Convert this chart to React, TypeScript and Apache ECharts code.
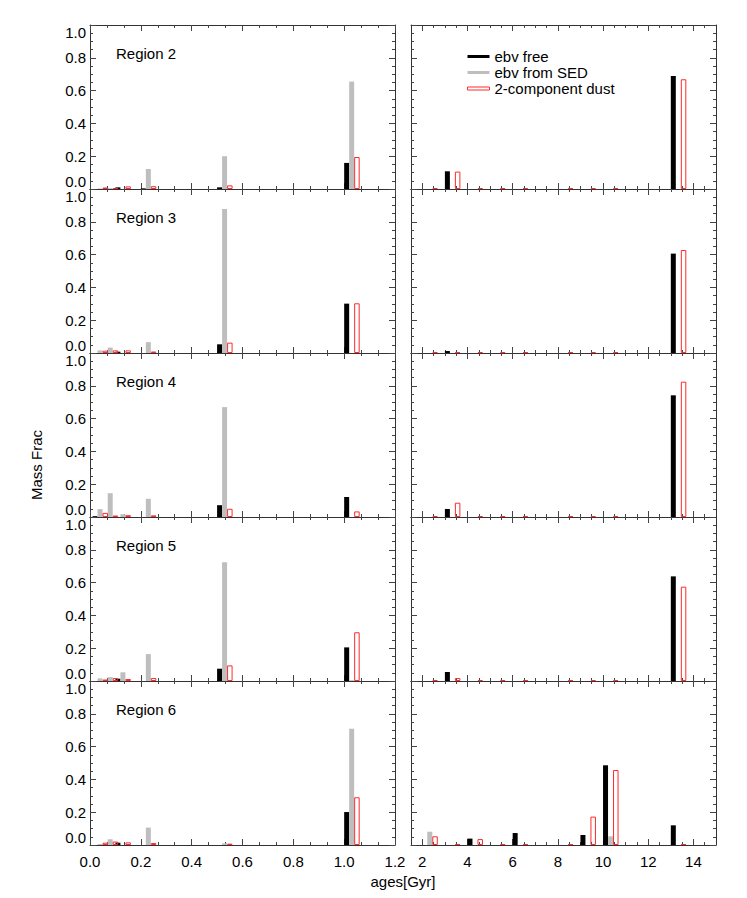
import React, { useEffect, useRef } from 'react';
import * as echarts from 'echarts';

// Ages (Gyr) of the stellar population bins
const ages = [0.01, 0.05, 0.1, 0.2, 0.5, 1.0, 2, 3, 4, 5, 6, 8, 9, 10, 13];

const regionNames = ['Region 2', 'Region 3', 'Region 4', 'Region 5', 'Region 6'];
const seriesNames = ['ebv free', 'ebv from SED', '2-component dust'];

// Mass fractions per region: "ebv free", "ebv from SED", "2-component dust"
const r2Free = [0, 0, 0.01, 0.004, 0.01, 0.159, 0, 0.108, 0, 0, 0, 0, 0, 0, 0.689];
const r2Sed = [0.003, 0.005, 0, 0.122, 0.2, 0.655, 0, 0, 0, 0, 0, 0, 0, 0, 0];
const r2Dust = [0.003, 0, 0.01, 0.011, 0.016, 0.189, 0, 0.1, 0, 0, 0, 0, 0, 0, 0.663];

const r3Free = [0, 0, 0.008, 0, 0.053, 0.301, 0, 0.012, 0, 0, 0, 0, 0, 0, 0.606];
const r3Sed = [0.016, 0.033, 0, 0.066, 0.878, 0, 0, 0, 0, 0, 0, 0, 0, 0, 0];
const r3Dust = [0.008, 0.01, 0.01, 0.003, 0.057, 0.297, 0, 0, 0, 0, 0, 0, 0, 0, 0.622];

const r4Free = [0.005, 0, 0, 0, 0.072, 0.122, 0, 0.049, 0, 0, 0, 0, 0, 0, 0.742];
const r4Sed = [0.048, 0.145, 0.017, 0.111, 0.67, 0, 0, 0, 0, 0, 0, 0, 0, 0, 0];
const r4Dust = [0.019, 0.003, 0.005, 0.004, 0.044, 0.028, 0, 0.081, 0, 0, 0, 0, 0, 0, 0.819];

const r5Free = [0, 0, 0.014, 0, 0.075, 0.205, 0, 0.055, 0, 0, 0, 0, 0, 0, 0.638];
const r5Sed = [0.016, 0.024, 0.053, 0.164, 0.724, 0.005, 0, 0, 0, 0, 0, 0, 0, 0, 0];
const r5Dust = [0.003, 0.012, 0.006, 0.012, 0.089, 0.291, 0, 0.012, 0, 0, 0, 0, 0, 0, 0.569];

const r6Free = [0, 0, 0.014, 0, 0, 0.201, 0, 0, 0.039, 0, 0.073, 0, 0.061, 0.486, 0.12];
const r6Sed = [0.006, 0.035, 0, 0.106, 0.01, 0.709, 0.081, 0, 0, 0, 0, 0, 0, 0.053, 0];
const r6Dust = [0.008, 0.015, 0.01, 0.006, 0.002, 0.285, 0.047, 0, 0.03, 0, 0, 0, 0.167, 0.451, 0];

const regionData = [
  [r2Free, r2Sed, r2Dust],
  [r3Free, r3Sed, r3Dust],
  [r4Free, r4Sed, r4Dust],
  [r5Free, r5Sed, r5Dust],
  [r6Free, r6Sed, r6Dust],
];

// Axis tick positions
const rightMajorTicks = [2, 4, 6, 8, 10, 12, 14];
const rightMinorTicks = [2.5, 3, 3.5, 4.5, 5, 5.5, 6.5, 7, 7.5, 8.5, 9, 9.5, 10.5, 11, 11.5, 12.5, 13, 13.5, 14.5];

const FONT = "'Liberation Sans', Arial, Helvetica, sans-serif";
const AX = '#333';
const LEFT_X = 90;
const RIGHT_X = 411;
const PANEL_W = 305;
const TOP0 = 25;
const PANEL_H = 164;
const BAR_W = 5;

function buildOption() {
  const grid: any[] = [];
  const xAxis: any[] = [];
  const yAxis: any[] = [];
  const series: any[] = [];
  const graphic: any[] = [];

  regionNames.forEach((rname, r) => {
    const top = TOP0 + r * PANEL_H;
    const bottomRow = r === regionNames.length - 1;
    [0, 1].forEach((side) => {
      const gi = grid.length;
      grid.push({
        left: side === 0 ? LEFT_X : RIGHT_X,
        top,
        width: PANEL_W,
        height: PANEL_H,
        containLabel: false,
      });
      const lineStyle = { color: AX, width: 1 };
      const tickStyle = { color: '#444', width: 1 };
      const xBottomIndex = xAxis.length;
      if (side === 0) {
        ['bottom', 'top'].forEach((pos) => {
          xAxis.push({
            type: 'value',
            gridIndex: gi,
            position: pos,
            min: 0,
            max: 1.2,
            interval: 0.2,
            axisLine: { show: true, onZero: false, lineStyle },
            axisTick: { show: true, inside: true, length: 6, lineStyle: tickStyle },
            minorTick: { show: true, splitNumber: 3, length: 3, lineStyle: tickStyle },
            splitLine: { show: false },
            axisLabel: {
              show: pos === 'bottom' && bottomRow,
              margin: 9,
              fontSize: 15,
              fontFamily: FONT,
              color: '#000',
              showMinLabel: true,
              showMaxLabel: true,
              formatter: (v: number) => v.toFixed(1),
            },
          });
        });
      } else {
        ['bottom', 'top'].forEach((pos) => {
          xAxis.push({
            type: 'value',
            gridIndex: gi,
            position: pos,
            min: 1.5,
            max: 15,
            axisLine: { show: true, onZero: false, lineStyle },
            axisTick: { show: true, inside: true, length: 6, lineStyle: tickStyle, customValues: rightMajorTicks },
            splitLine: { show: false },
            axisLabel: {
              show: pos === 'bottom' && bottomRow,
              margin: 9,
              fontSize: 15,
              fontFamily: FONT,
              color: '#000',
              customValues: rightMajorTicks,
              formatter: (v: number) => String(v),
            },
          });
          xAxis.push({
            type: 'value',
            gridIndex: gi,
            position: pos,
            min: 1.5,
            max: 15,
            axisLine: { show: false, onZero: false },
            axisTick: { show: true, inside: true, length: 3, lineStyle: tickStyle, customValues: rightMinorTicks },
            splitLine: { show: false },
            axisLabel: { show: false },
          });
        });
      }
      const yLeftIndex = yAxis.length;
      ['left', 'right'].forEach((pos) => {
        yAxis.push({
          type: 'value',
          gridIndex: gi,
          position: pos,
          min: 0,
          max: 1,
          interval: 0.2,
          axisLine: { show: true, onZero: false, lineStyle },
          axisTick: { show: true, inside: true, length: 6, lineStyle: tickStyle },
          minorTick: { show: true, splitNumber: 4, length: 3, lineStyle: tickStyle },
          splitLine: { show: false },
          axisLabel: {
            show: pos === 'left' && side === 0,
            margin: 4,
            fontSize: 15,
            fontFamily: FONT,
            color: '#000',
            showMinLabel: true,
            showMaxLabel: true,
            verticalAlignMinLabel: 'bottom',
            verticalAlignMaxLabel: 'top',
            formatter: (v: number) => v.toFixed(1),
          },
        });
      });

      const values = regionData[r];
      values.forEach((vals, k) => {
        const data: number[][] = [];
        ages.forEach((a, i) => {
          const inPanel = side === 0 ? a <= 1.2 : a > 1.2;
          if (inPanel) data.push([a, vals[i]]);
        });
        series.push({
          type: 'custom',
          name: seriesNames[k],
          xAxisIndex: xBottomIndex,
          yAxisIndex: yLeftIndex,
          itemStyle:
            k === 0
              ? { color: '#000' }
              : k === 1
              ? { color: '#bebebe' }
              : { color: '#fff', borderColor: '#ff2a2a', borderWidth: 1 },
          data,
          renderItem: (params: any, api: any) => {
            const age = api.value(0);
            const v = api.value(1);
            const base = api.coord([age, 0]);
            const tp = api.coord([age, v]);
            const h = base[1] - tp[1];
            if (k === 2) {
              return {
                type: 'rect',
                shape: { x: base[0] + 2 * BAR_W + 0.5, y: tp[1] - 0.5, width: BAR_W - 0.5, height: h },
                style: { fill: 'none', stroke: '#ff2a2a', lineWidth: 1 },
              };
            }
            if (v <= 0) return null;
            return {
              type: 'rect',
              shape: { x: base[0] + k * BAR_W, y: tp[1], width: BAR_W, height: h },
              style: { fill: k === 0 ? '#000' : '#bebebe' },
            };
          },
        });
      });
    });

    graphic.push({
      type: 'text',
      x: 116,
      y: top + 28,
      style: { text: rname, fontSize: 15, fontFamily: FONT, fill: '#000', align: 'left', verticalAlign: 'middle' },
    });
  });

  graphic.push({
    type: 'text',
    x: 36,
    y: 465,
    rotation: Math.PI / 2,
    style: { text: 'Mass Frac', fontSize: 15, fontFamily: FONT, fill: '#000', align: 'center', verticalAlign: 'middle' },
  });
  graphic.push({
    type: 'text',
    x: 403,
    y: 881,
    style: { text: 'ages[Gyr]', fontSize: 15, fontFamily: FONT, fill: '#000', align: 'center', verticalAlign: 'middle' },
  });

  return {
    animation: false,
    backgroundColor: '#fff',
    grid,
    xAxis,
    yAxis,
    series,
    graphic,
    legend: {
      orient: 'vertical',
      left: 467,
      top: 49,
      padding: 0,
      itemGap: 1,
      itemWidth: 22,
      itemHeight: 3,
      selectedMode: false,
      textStyle: { fontSize: 15, fontFamily: FONT, color: '#000', lineHeight: 15 },
      data: [
        { name: seriesNames[0], icon: 'rect', itemStyle: { color: '#000' } },
        { name: seriesNames[1], icon: 'rect', itemStyle: { color: '#bebebe' } },
        { name: seriesNames[2], icon: 'rect', itemStyle: { color: '#fff', borderColor: '#ff2a2a', borderWidth: 1 } },
      ],
    },
  };
}

export default function App() {
  const ref = useRef<HTMLDivElement>(null);
  useEffect(() => {
    if (!ref.current) return;
    const chart = echarts.init(ref.current, undefined, { renderer: 'svg' });
    chart.setOption(buildOption() as any);
    return () => chart.dispose();
  }, []);
  return (
    <div
      ref={ref}
      style={{ position: 'fixed', left: 0, top: 0, width: 747, height: 898, background: '#fff' }}
    />
  );
}
